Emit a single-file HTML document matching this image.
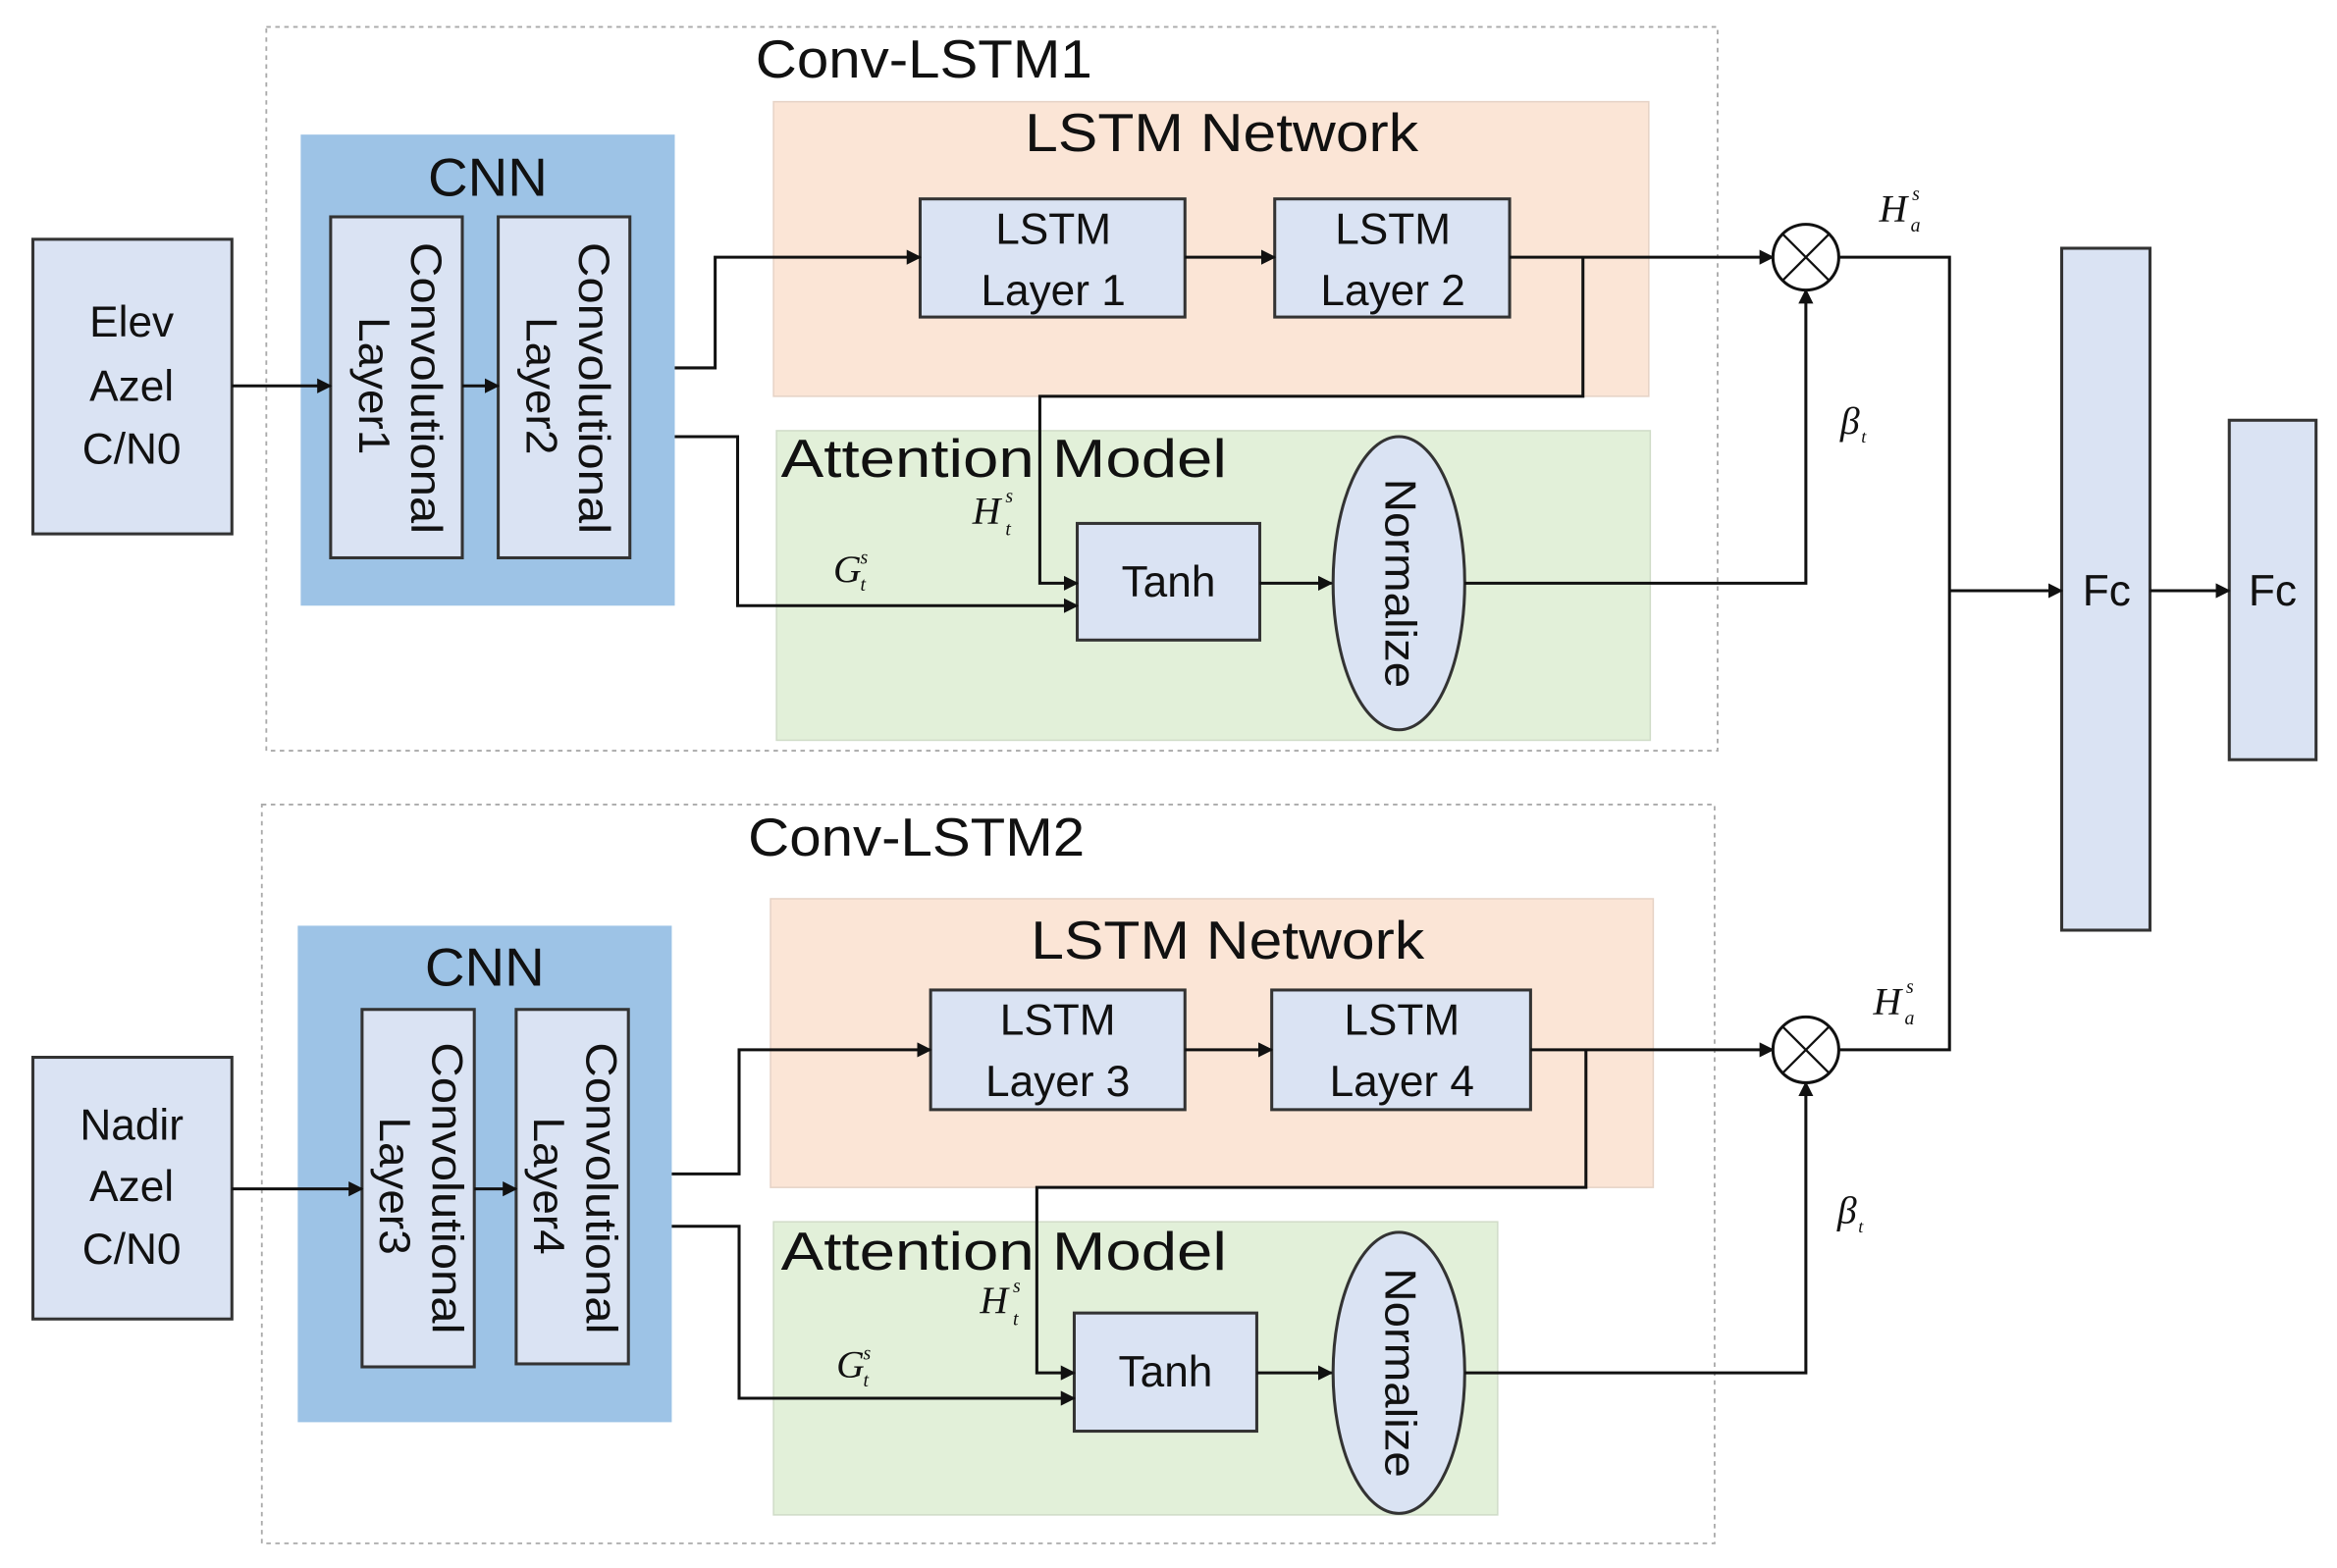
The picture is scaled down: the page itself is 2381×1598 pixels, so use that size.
<!DOCTYPE html>
<html><head><meta charset="utf-8"><style>
html,body{margin:0;padding:0;background:#fff;}
svg{display:block;}
text{font-family:"Liberation Sans",sans-serif;fill:#111;}
.m{font-family:"Liberation Serif",serif;font-style:italic;}
</style></head><body>
<svg width="2381" height="1598" viewBox="0 0 1562 1048.5" preserveAspectRatio="none" xmlns="http://www.w3.org/2000/svg">
<defs>
<marker id="a" markerWidth="10" markerHeight="10" refX="9" refY="5" orient="auto" markerUnits="userSpaceOnUse">
<path d="M0,0 L10,5 L0,10 z" fill="#111"/></marker>
</defs>
<g fill="none" stroke="#aaa" stroke-width="1.2" stroke-dasharray="3,3">
<rect x="178" y="18" width="970" height="484"/>
<rect x="175" y="538" width="971" height="494"/>
</g>
<text x="505" y="52" font-size="36" textLength="225" lengthAdjust="spacingAndGlyphs">Conv-LSTM1</text>
<text x="500" y="572" font-size="36" textLength="225" lengthAdjust="spacingAndGlyphs">Conv-LSTM2</text>

<rect x="201" y="90" width="250" height="315" fill="#9dc3e6"/>
<rect x="199" y="619" width="250" height="332" fill="#9dc3e6"/>
<rect x="517" y="68" width="585" height="197" fill="#fbe5d6" stroke="#e6d3c6"/>
<rect x="519" y="288" width="584" height="207" fill="#e2f0d9" stroke="#d0dcc8"/>
<rect x="515" y="601" width="590" height="193" fill="#fbe5d6" stroke="#e6d3c6"/>
<rect x="517" y="817" width="484" height="196" fill="#e2f0d9" stroke="#d0dcc8"/>

<text x="286" y="131" font-size="36" textLength="80" lengthAdjust="spacingAndGlyphs">CNN</text>
<text x="284" y="659" font-size="36" textLength="80" lengthAdjust="spacingAndGlyphs">CNN</text>
<text x="685" y="101" font-size="36" textLength="263" lengthAdjust="spacingAndGlyphs">LSTM Network</text>
<text x="689" y="641" font-size="36" textLength="263" lengthAdjust="spacingAndGlyphs">LSTM Network</text>
<text x="522" y="319" font-size="36" textLength="298" lengthAdjust="spacingAndGlyphs">Attention Model</text>
<text x="522" y="849" font-size="36" textLength="298" lengthAdjust="spacingAndGlyphs">Attention Model</text>

<g fill="#dae3f3" stroke="#333" stroke-width="2">
<rect x="22" y="160" width="133" height="197"/>
<rect x="22" y="707" width="133" height="175"/>
<rect x="221" y="145" width="88" height="228"/>
<rect x="333" y="145" width="88" height="228"/>
<rect x="242" y="675" width="75" height="239"/>
<rect x="345" y="675" width="75" height="237"/>
<rect x="615" y="133" width="177" height="79"/>
<rect x="852" y="133" width="157" height="79"/>
<rect x="622" y="662" width="170" height="80"/>
<rect x="850" y="662" width="173" height="80"/>
<rect x="720" y="350" width="122" height="78"/>
<rect x="718" y="878" width="122" height="79"/>
<ellipse cx="935" cy="390" rx="44" ry="98"/>
<ellipse cx="935" cy="918" rx="44" ry="94"/>
<rect x="1378" y="166" width="59" height="456"/>
<rect x="1490" y="281" width="58" height="227"/>
</g>

<g font-size="29" text-anchor="middle">
<text x="88" y="225">Elev</text><text x="88" y="268">Azel</text><text x="88" y="310">C/N0</text>
<text x="88" y="762">Nadir</text><text x="88" y="803">Azel</text><text x="88" y="845">C/N0</text>
<text x="704" y="163">LSTM</text><text x="704" y="204">Layer 1</text>
<text x="931" y="163">LSTM</text><text x="931" y="204">Layer 2</text>
<text x="707" y="692">LSTM</text><text x="707" y="733">Layer 3</text>
<text x="937" y="692">LSTM</text><text x="937" y="733">Layer 4</text>
<text x="781" y="399">Tanh</text><text x="779" y="927">Tanh</text>
<text x="1408" y="405">Fc</text><text x="1519" y="405">Fc</text>
</g>
<g font-size="29">
<text transform="translate(275,162) rotate(90)" textLength="195" lengthAdjust="spacingAndGlyphs">Convolutional</text>
<text transform="translate(240,212) rotate(90)" textLength="92" lengthAdjust="spacingAndGlyphs">Layer1</text>
<text transform="translate(387,162) rotate(90)" textLength="195" lengthAdjust="spacingAndGlyphs">Convolutional</text>
<text transform="translate(352,212) rotate(90)" textLength="92" lengthAdjust="spacingAndGlyphs">Layer2</text>
<text transform="translate(289,697) rotate(90)" textLength="195" lengthAdjust="spacingAndGlyphs">Convolutional</text>
<text transform="translate(254,747) rotate(90)" textLength="92" lengthAdjust="spacingAndGlyphs">Layer3</text>
<text transform="translate(392,697) rotate(90)" textLength="195" lengthAdjust="spacingAndGlyphs">Convolutional</text>
<text transform="translate(357,747) rotate(90)" textLength="92" lengthAdjust="spacingAndGlyphs">Layer4</text>
<text transform="translate(926,320) rotate(90)" textLength="140" lengthAdjust="spacingAndGlyphs">Normalize</text>
<text transform="translate(926,848) rotate(90)" textLength="140" lengthAdjust="spacingAndGlyphs">Normalize</text>
</g>

<g fill="none" stroke="#111" stroke-width="2">
<path d="M155,258 H221" marker-end="url(#a)"/>
<path d="M309,258 H333" marker-end="url(#a)"/>
<path d="M451,246 H478 V172 H615" marker-end="url(#a)"/>
<path d="M792,172 H852" marker-end="url(#a)"/>
<path d="M1009,172 H1185" marker-end="url(#a)"/>
<path d="M1058,172 V265 H695 V390 H720" marker-end="url(#a)"/>
<path d="M451,292 H493 V405 H720" marker-end="url(#a)"/>
<path d="M842,390 H890" marker-end="url(#a)"/>
<path d="M979,390 H1207 V194" marker-end="url(#a)"/>
<path d="M1229,172 H1303 V702 H1229"/>
<path d="M1303,395 H1378" marker-end="url(#a)"/>
<path d="M1437,395 H1490" marker-end="url(#a)"/>

<path d="M155,795 H242" marker-end="url(#a)"/>
<path d="M317,795 H345" marker-end="url(#a)"/>
<path d="M449,785 H494 V702 H622" marker-end="url(#a)"/>
<path d="M792,702 H850" marker-end="url(#a)"/>
<path d="M1023,702 H1185" marker-end="url(#a)"/>
<path d="M1060,702 V794 H693 V918 H718" marker-end="url(#a)"/>
<path d="M449,820 H494 V935 H718" marker-end="url(#a)"/>
<path d="M840,918 H890" marker-end="url(#a)"/>
<path d="M979,918 H1207 V724" marker-end="url(#a)"/>
</g>
<g fill="#fff" stroke="#111" stroke-width="2">
<circle cx="1207" cy="172" r="22"/>
<circle cx="1207" cy="702" r="22"/>
</g>
<g stroke="#111" stroke-width="1.5">
<path d="M1191.5,156.5 L1222.5,187.5 M1222.5,156.5 L1191.5,187.5"/>
<path d="M1191.5,686.5 L1222.5,717.5 M1222.5,686.5 L1191.5,717.5"/>
</g>

<g>
<text x="557" y="389" font-size="26" class="m">G</text><text x="575" y="377" font-size="13" class="m">s</text><text x="575" y="395" font-size="13" class="m">t</text>
<text x="650" y="350" font-size="26" class="m">H</text><text x="672" y="336" font-size="13" class="m">s</text><text x="672" y="358" font-size="13" class="m">t</text>
<text x="1230" y="290" font-size="26" class="m">β</text><text x="1244" y="296" font-size="12" class="m">t</text>
<text x="1256" y="148" font-size="26" class="m">H</text><text x="1278" y="134" font-size="13" class="m">s</text><text x="1277" y="155" font-size="13" class="m">a</text>

<text x="559" y="921" font-size="26" class="m">G</text><text x="577" y="909" font-size="13" class="m">s</text><text x="577" y="927" font-size="13" class="m">t</text>
<text x="655" y="878" font-size="26" class="m">H</text><text x="677" y="864" font-size="13" class="m">s</text><text x="677" y="886" font-size="13" class="m">t</text>
<text x="1228" y="818" font-size="26" class="m">β</text><text x="1242" y="824" font-size="12" class="m">t</text>
<text x="1252" y="678" font-size="26" class="m">H</text><text x="1274" y="664" font-size="13" class="m">s</text><text x="1273" y="685" font-size="13" class="m">a</text>
</g>
</svg>
</body></html>
